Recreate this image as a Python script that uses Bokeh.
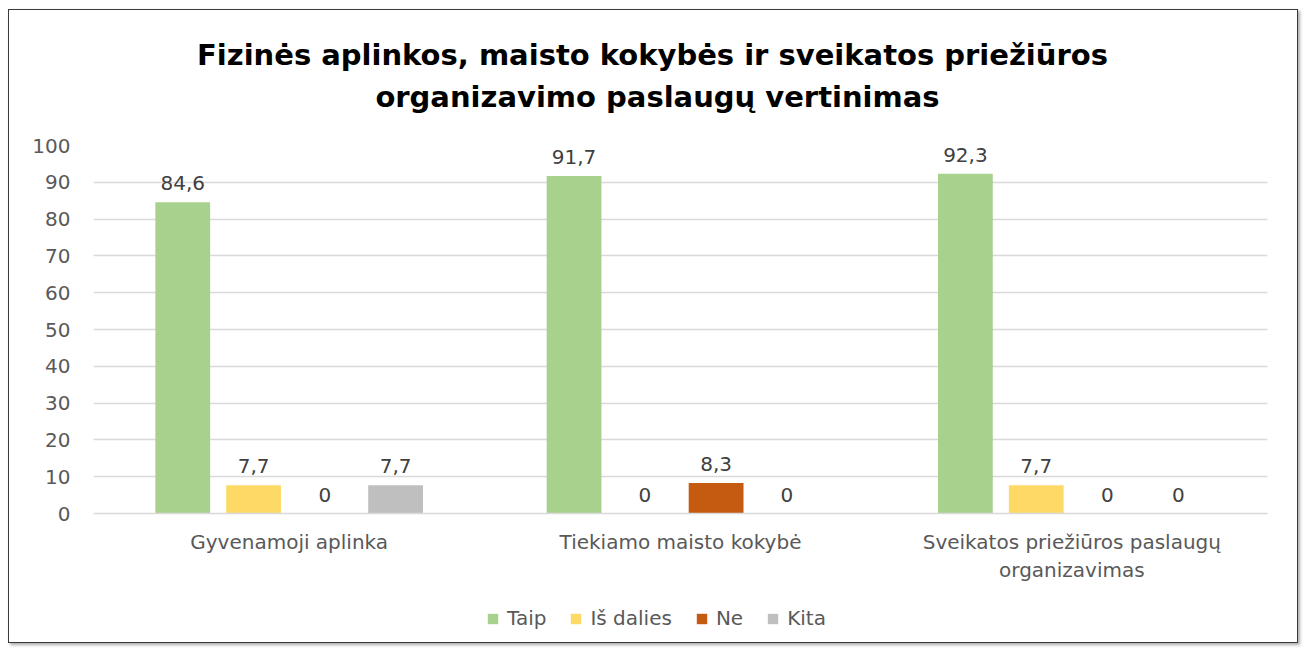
from bokeh.plotting import figure
from bokeh.models import (ColumnDataSource, FactorRange, Range1d, Legend, LegendItem,
                          FixedTicker, Label)
from bokeh.layouts import column
from bokeh.transform import dodge
from bokeh.embed import file_html
from bokeh.resources import INLINE
from bokeh.core.properties import value

categories = ["Gyvenamoji aplinka", "Tiekiamo maisto kokybė",
              "Sveikatos priežiūros paslaugų\norganizavimas"]
series = ["Taip", "Iš dalies", "Ne", "Kita"]
taip = [84.6, 91.7, 92.3]
is_dalies = [7.7, 0, 7.7]
ne = [0, 8.3, 0]
kita = [7.7, 0, 0]
values = [taip, is_dalies, ne, kita]
colors = ["#A9D18E", "#FFD966", "#C55A11", "#BFBFBF"]
y_ticks = list(range(0, 101, 10))
title_lines = ["Fizinės aplinkos, maisto kokybės ir  sveikatos priežiūros",
               "organizavimo paslaugų vertinimas"]

FONT = "DejaVu Sans"
W = 1288
TH = 120

# title strip
tt = figure(width=W, height=TH, output_backend="svg", toolbar_location=None,
            min_border=0, x_axis_location=None, y_axis_location=None,
            x_range=Range1d(0, 1), y_range=Range1d(0, 1))
tt.grid.visible = False
tt.outline_line_color = None
for line, ys in zip(title_lines, [75.5, 33.5]):
    tt.add_layout(Label(x=W / 2 - 80, y=ys, x_units="screen", y_units="screen",
                        text=line, text_align="center", text_baseline="middle",
                        text_font=FONT, text_font_size="29px", text_font_style="bold",
                        text_color="#000000"))

# main chart
p = figure(width=W, height=470, x_range=FactorRange(factors=categories),
           y_range=Range1d(0, 100), output_backend="svg", toolbar_location=None,
           min_border_left=84, min_border_right=30, min_border_top=15, min_border_bottom=87)
p.title.visible = False
p.outline_line_color = None
p.xgrid.grid_line_color = None
p.ygrid.grid_line_color = "#D9D9D9"
p.ygrid.grid_line_width = 1.5

p.yaxis.ticker = FixedTicker(ticks=y_ticks)
p.yaxis.axis_line_color = None
p.yaxis.major_tick_line_color = None
p.yaxis.minor_tick_line_color = None
p.yaxis.major_label_text_font = FONT
p.yaxis.major_label_text_font_size = "20px"
p.yaxis.major_label_text_color = "#595959"
p.yaxis.major_label_standoff = 17

p.xaxis.axis_line_color = "#D9D9D9"
p.xaxis.axis_line_width = 1.5
p.xaxis.major_tick_line_color = None
p.xaxis.minor_tick_line_color = None
p.xaxis.major_label_text_font = FONT
p.xaxis.major_label_text_font_size = "20px"
p.xaxis.major_label_text_color = "#595959"
p.xaxis.major_label_standoff = 10

offsets = [-0.272, -0.091, 0.091, 0.272]
for name, vals, col, off in zip(series, values, colors, offsets):
    src = ColumnDataSource(dict(cat=categories, val=vals,
                                lab=[("%g" % v).replace(".", ",") for v in vals]))
    p.vbar(x=dodge("cat", off, range=p.x_range), top="val", width=0.14,
           source=src, fill_color=col, line_color=None)
    p.text(x=dodge("cat", off, range=p.x_range), y="val", text="lab", source=src,
           text_align="center", text_baseline="bottom", y_offset=-12,
           text_font=value(FONT), text_font_size="20px", text_color="#404040")

# legend strip below the chart (zero-height bars only carry the legend swatches)
lg = figure(width=W, height=42, output_backend="svg", toolbar_location=None,
            min_border=0, x_range=FactorRange(factors=series), y_range=Range1d(0, 1))
lg.axis.visible = False
lg.grid.visible = False
lg.outline_line_color = None
items = []
for name, col in zip(series, colors):
    r = lg.vbar(x=[name], top=[0], width=0.1, fill_color=col, line_color=None)
    items.append(LegendItem(label=name, renderers=[r]))
legend = Legend(items=items, orientation="horizontal", location=(393, 12),
                glyph_width=13, glyph_height=13, label_text_font=FONT,
                label_text_font_size="20px", label_text_color="#595959",
                spacing=23, label_standoff=8, border_line_color=None,
                background_fill_alpha=0, margin=0, padding=5)
lg.add_layout(legend)

layout = column(tt, p, lg, margin=(9, 0, 0, 8),
                styles={"border": "1.5px solid #3a3a3a",
                        "box-shadow": "2px 2px 3px #aaaaaa"})

open("out.html", "w").write(file_html(layout, INLINE))
